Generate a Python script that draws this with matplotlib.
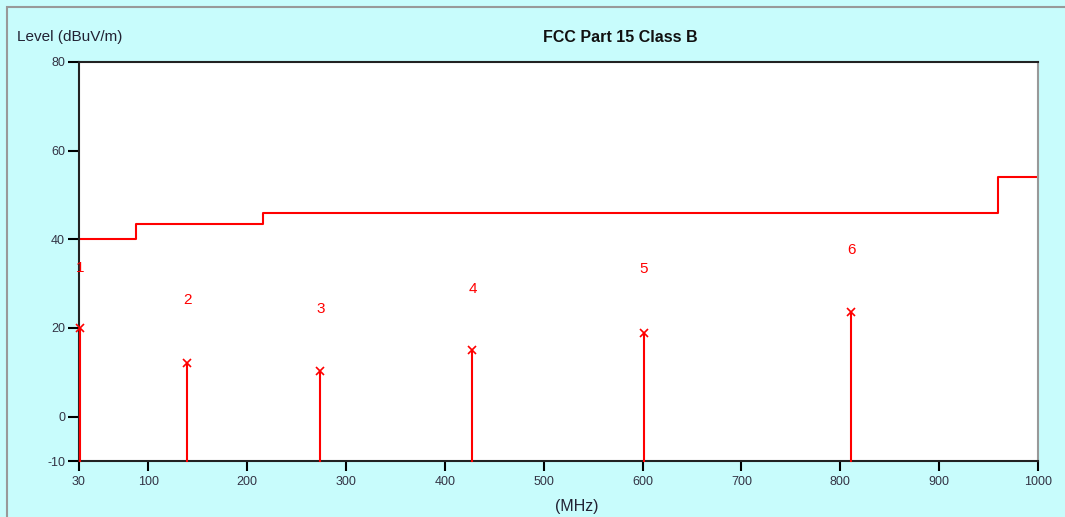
import matplotlib
matplotlib.use("Agg")
import matplotlib.pyplot as plt
from matplotlib.patches import Rectangle

plt.rcParams['font.family'] = ['Liberation Sans', 'DejaVu Sans']
plt.rcParams['axes.unicode_minus'] = False

# Limit line (FCC Part 15 Class B, 3 m)
limit_freq = [30, 88, 88, 216, 216, 960, 960, 1000]
limit_level = [40, 40, 43.5, 43.5, 46, 46, 54, 54]

# Peaks
peak_labels = ["1", "2", "3", "4", "5", "6"]
peak_freq = [30.8, 139.5, 274, 428, 601, 811]
peak_level = [20.0, 12.0, 10.2, 15.0, 18.9, 23.6]
label_level = [33.5, 26.4, 24.3, 28.9, 33.2, 37.5]

x_ticks = [30, 100, 200, 300, 400, 500, 600, 700, 800, 900, 1000]
y_ticks = [-10, 0, 20, 40, 60, 80]

W, H = 1065, 517
fig = plt.figure(figsize=(W / 100, H / 100), dpi=100)
bg = '#c8fcfc'
fig.patch.set_facecolor(bg)
# outer frame
fig.add_artist(Rectangle((7 / W, -0.1), 2, 1.1 - 7 / H, transform=fig.transFigure,
                         fill=False, edgecolor='#999999', linewidth=1.5))

ax = fig.add_axes([79 / W, 1 - 461 / H, (1038 - 79) / W, (461 - 62) / H])
ax.set_facecolor('white')

ax.plot(limit_freq, limit_level, color='red', linewidth=1.5)
for f, l, lab, ll in zip(peak_freq, peak_level, peak_labels, label_level):
    ax.plot([f, f], [-10, l], color='red', linewidth=1.5, zorder=4, clip_on=False)
    ax.plot(f, l, marker='x', color='red', markersize=6, markeredgewidth=1.2,
            zorder=4, clip_on=False)
    ax.text(f, ll, lab, color='red', fontsize=11, ha='center', va='center')

ax.set_xlim(30, 1000)
ax.set_ylim(-10, 80)
ax.set_xticks(x_ticks)
ax.set_yticks(y_ticks)
ax.tick_params(axis='both', direction='out', labelsize=9, labelcolor='#333344',
               color='black', width=1.5)
ax.tick_params(axis='x', length=7, pad=4)
ax.tick_params(axis='y', length=8, pad=2)
for s in ['left', 'bottom', 'top']:
    ax.spines[s].set_color('#222222')
    ax.spines[s].set_linewidth(1.5)
ax.spines['right'].set_color('#999999')
ax.spines['right'].set_linewidth(1.5)

fig.text(17 / W, 1 - 37 / H, "Level (dBuV/m)", fontsize=11, color='#222233',
         ha='left', va='center')
fig.text(620 / W, 1 - 37 / H, "FCC Part 15 Class B", fontsize=11.5, fontweight='bold',
         color='#111111', ha='center', va='center')
fig.text(577 / W, 1 - 507 / H, "(MHz)", fontsize=11.5, color='#222233',
         ha='center', va='center')

fig.savefig("out.png", dpi=100, facecolor=bg)
